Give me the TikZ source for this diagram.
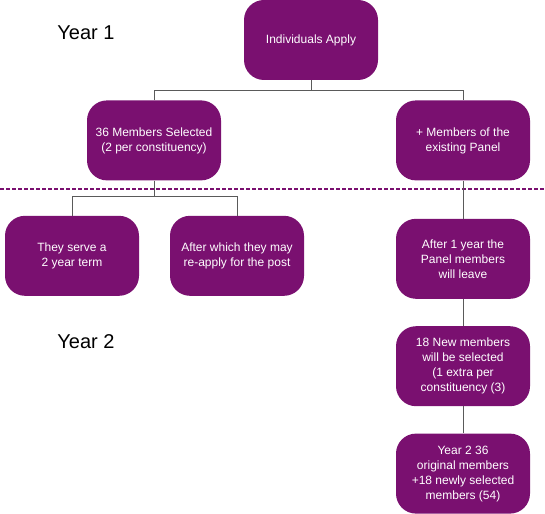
\documentclass[tikz,border=0pt]{standalone}
\usepackage{fontspec}
\setmainfont{Liberation Sans}
\definecolor{PanelPurple}{RGB}{122,16,112}
\definecolor{LinkGrey}   {RGB}{90,90,90}
\usetikzlibrary{positioning}

\begin{document}
\begin{tikzpicture}[node distance=20pt,
  box/.style={fill=PanelPurple,rounded corners=20pt,
              minimum width=134pt,minimum height=80pt,inner sep=2pt,
              align=center,text=white,font=\fontsize{12}{15}\selectfont},
  link/.style={draw=LinkGrey,line width=1pt},
  yearlabel/.style={font=\fontsize{20}{24}\selectfont}]
  \useasboundingbox (0,0) rectangle (545pt,-513pt);
  \node[box] (apply) at (311pt,-40pt){Individuals Apply};
  \node[box,below=of apply,xshift=-157pt](sel){36 Members Selected\\(2 per constituency)};
  \node[box,below=of apply,xshift=152pt](panel){+ Members of the\\existing Panel};
  \node[box,below=35pt of sel,xshift=-82pt](serve){They serve a\\2 year term};
  \node[box,below=35pt of sel,xshift=83pt](reapply){After which they may\\re-apply for the post};
  \node[box,below=38pt of panel](leave){After 1 year the\\Panel members\\will leave};
  \node[box,below=27pt of leave](newsel){18 New members\\will be selected\\(1 extra per\\constituency (3)};
  \node[box,below=27pt of newsel](total){Year 2 36\\original members\\+18 newly selected\\members (54)};
  \node[yearlabel] (year1) at (86pt,-33pt){Year 1};
  \node[yearlabel] (year2) at (86pt,-342pt){Year 2};
  \coordinate (divL) at (0,-189pt);
  \coordinate (divR) at (545pt,-189pt);
  \draw[PanelPurple,line width=1.5pt,dash pattern=on 3.5pt off 2.5pt](divL)--(divR);
  \draw[link](apply.south)--++(0,-10pt)-|(sel.north);
  \draw[link](apply.south)--++(0,-10pt)-|(panel.north);
  \draw[link](sel.south)--++(0,-16pt)-|(serve.north);
  \draw[link](sel.south)--++(0,-16pt)-|(reapply.north);
  \draw[link](panel)--(leave);
  \draw[link](leave)--(newsel);
  \draw[link](newsel)--(total);
\end{tikzpicture}
\end{document}
